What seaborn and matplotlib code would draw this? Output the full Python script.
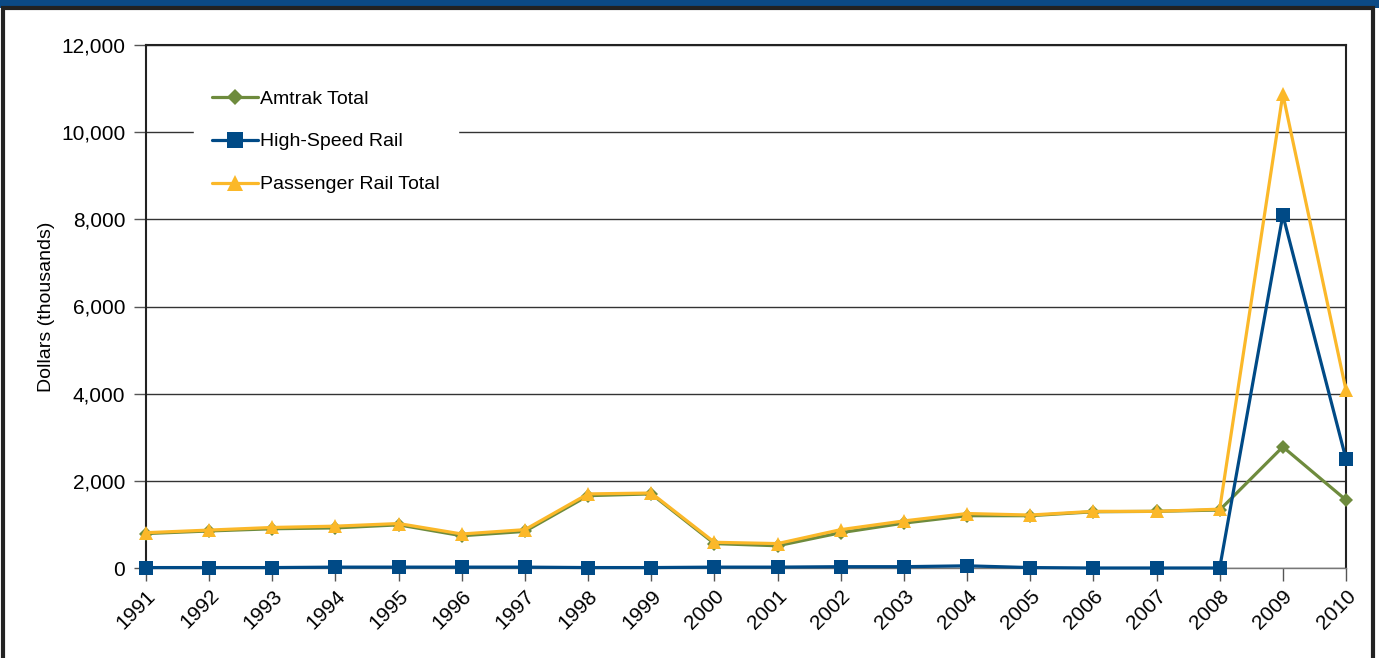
import pandas as pd
import numpy as np
import matplotlib
matplotlib.use("Agg")
import matplotlib.pyplot as plt
import seaborn as sns
from matplotlib.patches import Rectangle

years = list(range(1991, 2011))
amtrak_total = [790, 850, 900, 920, 990, 740, 840, 1660, 1700, 560,
                510, 810, 1030, 1200, 1200, 1290, 1300, 1330, 2780, 1560]
high_speed_rail = [10, 10, 10, 20, 20, 20, 20, 10, 10, 20,
                   20, 30, 30, 50, 10, 0, 0, 0, 8100, 2500]
passenger_total = [810, 870, 930, 960, 1020, 780, 880, 1700, 1720, 590,
                   560, 880, 1080, 1250, 1215, 1300, 1300, 1350, 10870, 4080]

series_names = ["Amtrak Total", "High-Speed Rail", "Passenger Rail Total"]
colors = ["#6e8b3d", "#004a86", "#fbb829"]
markers = ["D", "s", "^"]
msizes = [7, 10, 10]

data = pd.DataFrame({"Year": years,
                     series_names[0]: amtrak_total,
                     series_names[1]: high_speed_rail,
                     series_names[2]: passenger_total})
long = data.melt(id_vars="Year", var_name="Series", value_name="Value")

sns.set_style("white")
plt.rcParams['font.family'] = ['Liberation Sans', 'DejaVu Sans']
plt.rcParams['text.color'] = 'black'
plt.rcParams['axes.labelcolor'] = 'black'
plt.rcParams['xtick.color'] = 'black'
plt.rcParams['ytick.color'] = 'black'

fig = plt.figure(figsize=(13.79, 6.58), dpi=100)
ax = fig.add_axes([146/1379, 1-568/658, 1200/1379, 523/658])

for name, c, m, ms in zip(series_names, colors, markers, msizes):
    sub = long[long.Series == name]
    sns.lineplot(data=sub, x="Year", y="Value", ax=ax, color=c, marker=m,
                 markersize=ms, markeredgewidth=0, linewidth=2.3, label=name,
                 clip_on=False, zorder=3)

ax.set_xlim(1991, 2010)
ax.set_ylim(0, 12000)
ax.set_yticks(range(0, 12001, 2000))
ax.set_yticklabels([f"{v:,}" for v in range(0, 12001, 2000)], fontsize=15)
ax.set_xticks(years)
ax.set_xticklabels([str(y) for y in years], rotation=45, ha="right",
                   rotation_mode="anchor", fontsize=15)
ax.set_xlabel("")
ax.set_ylabel("Dollars (thousands)", fontsize=14, labelpad=4)
ax.yaxis.grid(True, color="#333333", linewidth=1)
ax.set_axisbelow(True)
ax.tick_params(axis="x", bottom=True, direction="out", length=9, width=1,
               color="#555555", pad=4)
ax.tick_params(axis="y", left=True, direction="out", length=9, width=1,
               color="#555555", pad=6)
for s in ["left", "right", "top"]:
    ax.spines[s].set_color("#222222")
    ax.spines[s].set_linewidth(1.5)
ax.spines["bottom"].set_color("#777777")
ax.spines["bottom"].set_linewidth(1)

leg = ax.legend(loc="upper left", bbox_to_anchor=(0.037, 0.955), frameon=True,
                fontsize=14, handlelength=2.4, labelspacing=1.3,
                borderpad=0.6, handletextpad=0.1, markerscale=1.1)
leg.get_frame().set_edgecolor("white")
leg.get_frame().set_facecolor("white")
leg.get_frame().set_alpha(1)
leg.get_frame().set_boxstyle("square", pad=0.3)

# report frame
fig.patches.append(Rectangle((0, 1-8/658), 1, 8/658, transform=fig.transFigure,
                             facecolor="#0b4a86", edgecolor="none"))
fig.patches.append(Rectangle((3/1379, -0.05), 1-9/1379, 1.05-8/658,
                             transform=fig.transFigure,
                             facecolor="none", edgecolor="#222222", linewidth=3))

fig.savefig("out.png", dpi=100)
